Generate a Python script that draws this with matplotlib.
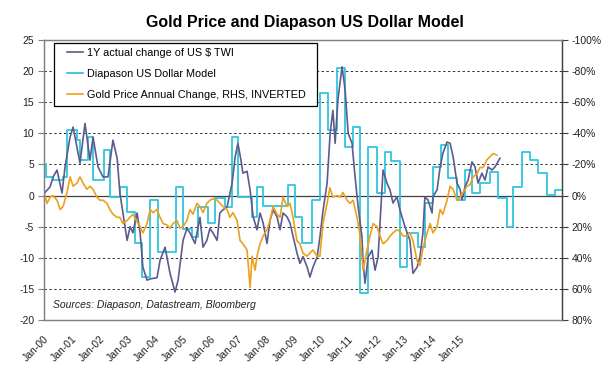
import numpy as np
import matplotlib
matplotlib.use("Agg")
import matplotlib.pyplot as plt
from matplotlib.patches import Rectangle
from matplotlib.transforms import ScaledTranslation

plt.rcParams['font.family'] = ['Liberation Sans', 'DejaVu Sans']
plt.rcParams['axes.unicode_minus'] = False

# 1Y actual change of US $ TWI (time in decimal years, value in %)
usd_t = [2000.04, 2000.22, 2000.33, 2000.47, 2000.65, 2000.76, 2000.94, 2001.05, 2001.30, 2001.48,
         2001.66, 2001.77, 2001.95, 2002.13, 2002.31, 2002.49, 2002.64, 2002.74, 2002.85, 2003.00,
         2003.11, 2003.21, 2003.36, 2003.47, 2003.57, 2003.72, 2003.83, 2004.08, 2004.19, 2004.37,
         2004.55, 2004.73, 2004.84, 2005.02, 2005.16, 2005.27, 2005.45, 2005.63, 2005.74, 2005.88,
         2005.99, 2006.10, 2006.25, 2006.35, 2006.46, 2006.61, 2006.79, 2006.90, 2007.00, 2007.11,
         2007.18, 2007.33, 2007.44, 2007.55, 2007.69, 2007.80, 2007.91, 2008.05, 2008.16, 2008.27,
         2008.41, 2008.52, 2008.63, 2008.77, 2008.88, 2008.99, 2009.13, 2009.24, 2009.35, 2009.50,
         2009.60, 2009.71, 2009.86, 2009.96, 2010.07, 2010.22, 2010.33, 2010.43, 2010.51, 2010.61,
         2010.76, 2010.87, 2010.98, 2011.12, 2011.23, 2011.34, 2011.48, 2011.52, 2011.59, 2011.70,
         2011.84, 2011.95, 2012.06, 2012.20, 2012.24, 2012.38, 2012.49, 2012.60, 2012.74, 2012.85,
         2013.03, 2013.21, 2013.32, 2013.47, 2013.57, 2013.68, 2013.75, 2013.86, 2014.01, 2014.04,
         2014.19, 2014.30, 2014.40, 2014.55, 2014.66, 2014.77, 2014.91, 2015.02, 2015.09, 2015.20,
         2015.31, 2015.45, 2015.56, 2015.67, 2015.81, 2015.92, 2016.03, 2016.17, 2016.28, 2016.46]
usd_v = [0.5, 1.4, 3.0, 4.1, 0.4, 4.6, 9.4, 11.0, 5.2, 11.6,
         5.7, 9.4, 4.6, 3.0, 3.0, 8.9, 6.0, 0.4, -2.8, -7.2,
         -5.0, -6.0, -2.8, -6.0, -11.5, -13.6, -13.4, -13.2, -10.4, -8.3,
         -12.5, -15.5, -13.6, -7.2, -5.3, -6.0, -7.7, -3.5, -8.3, -7.2,
         -5.3, -6.0, -7.2, -2.8, -2.3, -1.8, 2.0, 6.2, 8.4, 5.7,
         3.6, 3.9, 0.9, -3.4, -5.5, -2.8, -4.4, -7.7, -4.0, -2.3,
         -3.4, -5.5, -2.8, -3.4, -4.4, -6.5, -9.2, -10.9, -9.8, -11.5,
         -13.1, -11.5, -9.9, -6.7, -2.5, 2.0, 10.0, 13.7, 8.4, 15.4,
         20.7, 17.0, 10.0, 8.4, 3.0, -1.8, -6.7, -10.9, -14.1, -9.9,
         -8.8, -12.0, -9.9, 0.9, 4.1, 2.0, 0.9, -1.2, -0.2, -2.3,
         -5.0, -7.2, -12.5, -11.5, -9.9, -6.0, -0.2, -0.7, -2.8, -0.2,
         0.9, 4.6, 6.8, 8.6, 8.4, 6.2, 2.0, 1.0, -0.7, 1.4,
         2.5, 5.4, 4.6, 2.0, 3.6, 2.5, 4.6, 4.1, 4.6, 6.0]

# Diapason US Dollar Model (step starts)
model_t = [2000.00, 2000.07, 2000.33, 2000.69, 2000.83, 2001.19, 2001.30, 2001.59, 2001.77, 2002.17,
           2002.38, 2002.74, 2003.00, 2003.29, 2003.54, 2003.83, 2004.12, 2004.77, 2005.02, 2005.34,
           2005.56, 2005.92, 2006.17, 2006.53, 2006.79, 2007.00, 2007.51, 2007.69, 2007.91, 2008.81,
           2009.06, 2009.31, 2009.68, 2009.96, 2010.25, 2010.58, 2010.87, 2011.16, 2011.41, 2011.70,
           2012.02, 2012.31, 2012.53, 2012.85, 2013.11, 2013.50, 2013.76, 2014.04, 2014.33, 2014.59,
           2014.91, 2015.20, 2015.45, 2015.74, 2016.10, 2016.39, 2016.72, 2016.93, 2017.26, 2017.55,
           2017.83, 2018.16, 2018.45, 2018.70]
model_v = [5.0, 3.0, 2.5, 3.0, 10.5, 8.9, 5.7, 9.4, 2.5, 7.3,
           -0.2, 1.4, -2.6, -7.7, -13.1, -0.7, -9.1, 1.4, -5.3, -6.7,
           -1.8, -4.4, -0.4, -1.8, 9.4, -0.2, -3.4, 1.4, -1.6, 1.7,
           -3.4, -7.7, -0.7, 16.5, 10.5, 20.5, 7.8, 11.0, -15.7, 7.8,
           0.4, 7.0, 5.5, -11.5, -6.0, -8.3, -1.2, 4.6, 8.1, 2.8,
           -0.7, 4.1, 0.4, 2.0, 3.8, -0.4, -5.0, 1.4, 7.0, 5.7,
           3.6, 0.1, 0.9, 0.9]

# Gold price annual change, % (plotted on inverted right axis)
gold_t = [2000.00, 2000.11, 2000.22, 2000.32, 2000.47, 2000.58, 2000.69, 2000.83, 2000.94, 2001.05,
          2001.19, 2001.30, 2001.41, 2001.55, 2001.66, 2001.77, 2001.91, 2002.02, 2002.13, 2002.27,
          2002.38, 2002.49, 2002.64, 2002.74, 2002.85, 2003.00, 2003.10, 2003.21, 2003.36, 2003.47,
          2003.57, 2003.72, 2003.83, 2003.94, 2004.08, 2004.19, 2004.30, 2004.44, 2004.55, 2004.66,
          2004.80, 2004.91, 2005.02, 2005.16, 2005.27, 2005.38, 2005.52, 2005.63, 2005.74, 2005.88,
          2005.99, 2006.10, 2006.25, 2006.35, 2006.46, 2006.61, 2006.71, 2006.82, 2006.97, 2007.08,
          2007.18, 2007.33, 2007.44, 2007.51, 2007.62, 2007.69, 2007.80, 2007.91, 2008.05, 2008.16,
          2008.27, 2008.41, 2008.52, 2008.63, 2008.77, 2008.88, 2008.99, 2009.13, 2009.24, 2009.35,
          2009.49, 2009.60, 2009.71, 2009.86, 2009.96, 2010.07, 2010.22, 2010.32, 2010.43, 2010.58,
          2010.69, 2010.79, 2010.94, 2011.05, 2011.16, 2011.30, 2011.41, 2011.52, 2011.66, 2011.77,
          2011.88, 2012.02, 2012.13, 2012.24, 2012.38, 2012.49, 2012.60, 2012.74, 2012.85, 2012.96,
          2013.10, 2013.21, 2013.32, 2013.47, 2013.57, 2013.68, 2013.83, 2013.94, 2014.04, 2014.19,
          2014.30, 2014.40, 2014.55, 2014.66, 2014.77, 2014.91, 2015.02, 2015.13, 2015.27, 2015.38,
          2015.49, 2015.63, 2015.74, 2015.85, 2015.99, 2016.10, 2016.21, 2016.35]
gold_v = [-2, 5, 1, 0, 3, 9, 7, -2, -12, -6,
          -8, -12, -8, -4, -6, -4, 1, 3, 3, 5,
          9, 12, 14, 14, 18, 16, 14, 12, 17, 20,
          24, 18, 9, 11, 9, 14, 18, 19, 21, 18,
          16, 21, 20, 16, 9, 12, 5, 7, 11, 5,
          3, 2, 3, 5, 7, 9, 14, 11, 16, 29,
          31, 35, 59, 39, 48, 39, 31, 26, 22, 16,
          7, 12, 14, 1, 7, 5, 14, 29, 31, 37,
          39, 37, 35, 39, 39, 18, 5, -5, 1, 0,
          1, -2, 3, 5, 3, 14, 26, 48, 35, 26,
          18, 20, 26, 31, 29, 26, 24, 22, 23, 26,
          26, 24, 29, 42, 45, 34, 24, 18, 24, 20,
          9, 12, 3, -6, -4, 3, 1, -2, -6, -7,
          -12, -14, -18, -18, -23, -25, -27, -26]

years = list(range(2000, 2016))
year_labels = ['Jan-%02d' % (y % 100) for y in years]
left_ticks = list(range(-20, 30, 5))
right_ticks = list(range(-100, 100, 20))

fig = plt.figure(figsize=(6.10, 3.83), dpi=100)
ax = fig.add_axes([44/610, 1-320/383, 518/610, 280/383])
ax2 = ax.twinx()

ax.set_xlim(2000, 2018.7)
ax.set_ylim(-20, 25)
ax2.set_ylim(80, -100)

# grid
for v in left_ticks:
    if v in (-20, 25):
        continue
    if v == 0:
        ax.axhline(v, color='#404040', lw=0.9, zorder=1)
    else:
        ax.axhline(v, color='#333333', lw=0.7, ls=(0, (2.5, 2.5)), zorder=1)

l1, = ax.plot(usd_t, usd_v, color='#5c5b8e', lw=1.2, zorder=4, label='1Y actual change of US $ TWI')
l2, = ax.plot(model_t, model_v, color='#2fc6de', lw=1.3, drawstyle='steps-post', zorder=3,
              label='Diapason US Dollar Model')
l3, = ax2.plot(gold_t, gold_v, color='#eda01e', lw=1.2, label='Gold Price Annual Change, RHS, INVERTED')

ax.set_yticks(left_ticks)
ax.set_yticklabels([str(v) for v in left_ticks])
ax2.set_yticks(right_ticks)
ax2.set_yticklabels(['%d%%' % v for v in right_ticks])

ax.set_xticks(years)
ax.set_xticklabels(year_labels, rotation=45, ha='right', va='top', rotation_mode='anchor')
off = ScaledTranslation(-6/100, 0, fig.dpi_scale_trans)
for lbl in ax.get_xticklabels():
    lbl.set_transform(lbl.get_transform() + off)

ax.tick_params(axis='x', length=0, pad=10, labelsize=7.5, colors='#222222')
ax.tick_params(axis='y', direction='out', length=4, width=0.8, color='#808080', labelsize=7.5,
               labelcolor='#222222', pad=3)
ax2.tick_params(axis='y', direction='out', length=4, width=0.8, color='#404040', labelsize=7.5,
                labelcolor='#222222', pad=3)

for a in (ax, ax2):
    a.spines['left'].set_color('#808080')
    a.spines['bottom'].set_color('#808080')
    a.spines['top'].set_color('#808080')
    a.spines['right'].set_color('#404040')
    for s in a.spines.values():
        s.set_linewidth(0.9)

fig.text(305/610, 1-22/383, 'Gold Price and Diapason US Dollar Model', ha='center', va='center',
         fontsize=11.5, fontweight='bold')

ax.text(0.018, 0.052, 'Sources: Diapason, Datastream, Bloomberg', transform=ax.transAxes,
        fontsize=7.5, style='italic', color='#222222', va='center')

# legend: frame drawn separately to get the wide box of the original
ax2.add_patch(Rectangle((0.0193, 0.764), 0.508, 0.225, transform=ax2.transAxes,
                        facecolor='white', edgecolor='black', lw=0.9, zorder=5))
leg = ax2.legend(handles=[l1, l2, l3], loc='upper left', bbox_to_anchor=(0.044, 0.972),
                 fontsize=7.8, frameon=False, handlelength=1.5, handletextpad=0.4,
                 labelspacing=1.0, borderpad=0, borderaxespad=0)
leg.set_zorder(6)

fig.savefig('out.png', dpi=100)
